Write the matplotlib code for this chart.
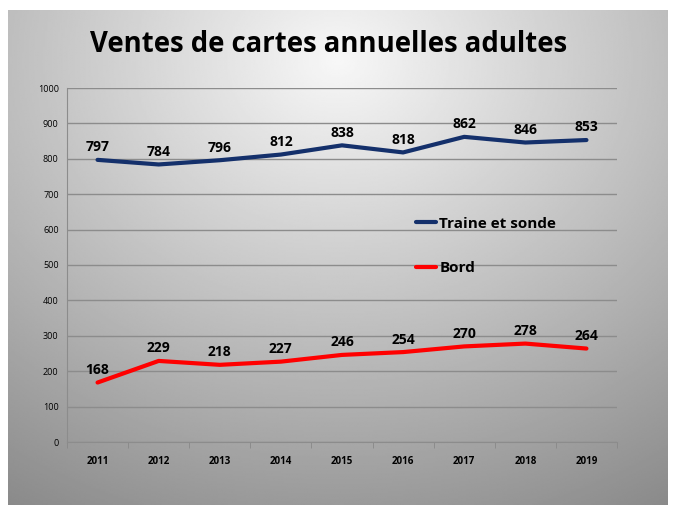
import numpy as np
import matplotlib
matplotlib.use("Agg")
import matplotlib.pyplot as plt

# données
annees = ['2011', '2012', '2013', '2014', '2015', '2016', '2017', '2018', '2019']
traine = [797, 784, 796, 812, 838, 818, 862, 846, 853]
bord = [168, 229, 218, 227, 246, 254, 270, 278, 264]
yticks = list(range(0, 1001, 100))

plt.rcParams['font.family'] = ['Open Sans', 'DejaVu Sans']

fig = plt.figure(figsize=(6.77, 5.07), dpi=100, facecolor='white')

# fond gris en dégradé (panneau)
bg = fig.add_axes([8 / 677, 2 / 507, 660 / 677, 495 / 507])
bg.set_axis_off()
yy, xx = np.mgrid[0:1:300j, 0:1:400j]
d = np.sqrt(((xx - 0.5) * 1.0) ** 2 + ((yy - 0.1) * 0.9) ** 2)
val = np.clip(0.97 - 0.45 * d, 0.5, 1.0)
bg.imshow(val, cmap='gray', vmin=0, vmax=1, aspect='auto',
          extent=[0, 1, 1, 0], interpolation='bilinear')

fig.text(0.485, 0.912, 'Ventes de cartes annuelles adultes', ha='center', va='center',
         fontsize=19.8, weight='bold', color='black')

ax = fig.add_axes([67 / 677, 1 - 442 / 507, 550 / 677, 354 / 507])
ax.patch.set_alpha(0)
x = np.arange(len(annees))
l1, = ax.plot(x, traine, color='#14306b', lw=3, solid_capstyle='round', label='Traine et sonde')
l2, = ax.plot(x, bord, color='#ff0000', lw=3, solid_capstyle='round', label='Bord')

for xi, v in zip(x, traine):
    ax.annotate(str(v), (xi, v), xytext=(0, 4), textcoords='offset points',
                ha='center', va='bottom', fontsize=10, weight='bold')
for xi, v in zip(x, bord):
    ax.annotate(str(v), (xi, v), xytext=(0, 4), textcoords='offset points',
                ha='center', va='bottom', fontsize=10, weight='bold')

ax.set_xlim(-0.5, len(annees) - 0.5)
ax.set_ylim(0, 1000)
ax.set_yticks(yticks)
ax.set_yticklabels([str(t) for t in yticks], fontsize=6.5)
ax.set_xticks(x)
ax.set_xticklabels(annees, fontsize=7, weight='bold')
ax.set_xticks(np.arange(-0.5, len(annees)), minor=True)
ax.tick_params(axis='x', which='major', length=0, pad=10)
ax.tick_params(axis='x', which='minor', length=4, color='#888888')
ax.tick_params(axis='y', length=0, pad=6)
ax.grid(axis='y', color='#8c8c8c', lw=1)
ax.set_axisbelow(True)
for s in ['top', 'right']:
    ax.spines[s].set_visible(False)
ax.spines['left'].set_color('#8c8c8c')
ax.spines['bottom'].set_color('#8c8c8c')

ax.legend(handles=[l1, l2], loc='upper left', bbox_to_anchor=(0.61, 0.675),
          frameon=False, handlelength=1.3, handletextpad=0.2, labelspacing=2.0,
          prop={'weight': 'bold', 'size': 11})

fig.savefig('out.png', dpi=100, facecolor='white')
